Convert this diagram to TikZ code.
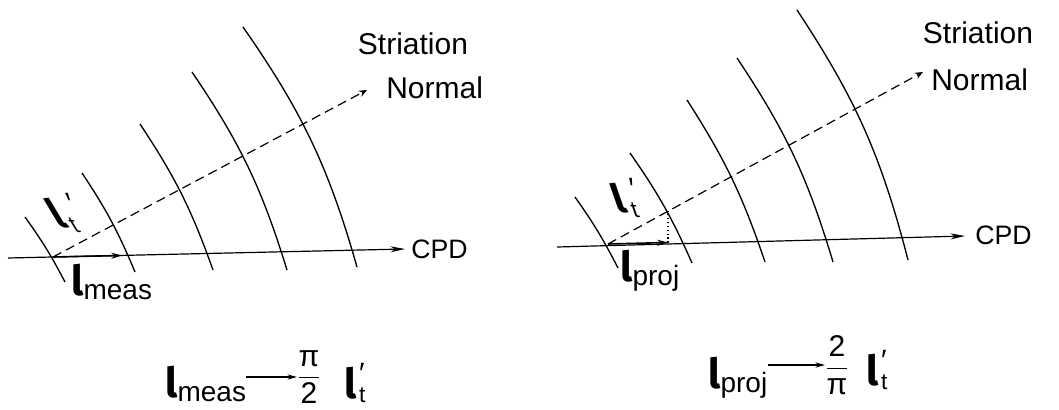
\documentclass[tikz,border=0pt]{standalone}
\usepackage{amsmath}
\usepackage{fontspec}
\setmainfont{Liberation Sans}
\newfontfamily\ellfont{Fira Sans}
\usepackage{tikz}
\usetikzlibrary{arrows.meta}
\usetikzlibrary{positioning}

\newcommand{\ellsym}{{\ellfont\bfseries\fontsize{31}{31}\selectfont l}}
\newcommand{\ellsub}[1]{\ellsym\raisebox{-3pt}{\fontsize{21}{21}\selectfont #1}}
\newcommand{\primet}{\shortstack[l]{{\fontsize{22}{22}\selectfont ′}\\{\fontsize{17}{17}\selectfont t}}}
\newcommand{\ellt}{\ellsym\kern2pt\raisebox{-3pt}{\primet}}
\newcommand{\ellts}[1]{{\addfontfeature{FakeSlant=#1}{\ellfont\bfseries\addfontfeature{FakeSlant=#1}\fontsize{29}{29}\selectfont l}\kern4pt\raisebox{-4pt}{\primet}}}

\begin{document}
\begin{tikzpicture}[
  x=0.75pt, y=-0.75pt,
  every node/.style={inner sep=0pt, font=\fontsize{22.5}{24}\selectfont},
  cpdtext/.style={font=\fontsize{20}{22}\selectfont},
  striation/.style={line width=1pt},
  cpd/.style={line width=0.9pt, -{Stealth[length=11pt,width=4.5pt]}},
  normal/.style={line width=0.9pt, dash pattern=on 7pt off 4pt, -{Stealth[length=6pt,width=5pt]}},
  vec/.style={line width=1.2pt, -{Stealth[length=8pt,width=4.5pt]}},
  limit/.style={line width=0.8pt, -{Stealth[length=7pt,width=4pt]}}
]
\useasboundingbox (0,0) rectangle (1059,410);

% left panel
\foreach \xa/\ya/\xb/\yb/\bend in {25/217/65/282/4, 82/173/135/272/5.5,
  140/124/213/270/7, 192/72/287/270/8.5, 243/27/357/267/9.5}
  \draw[striation] (\xa,\ya) to[bend left=\bend] (\xb,\yb);
\coordinate (oL) at (53,257);
\coordinate (cpdL0) at (8,258);
\coordinate (cpdL1) at (405,249);
\coordinate (measL) at (122,255.5);
\coordinate (normL1) at (367,90);
\node[cpdtext, anchor=west] (cpdLlab) at (411,249) {CPD};
\node[anchor=west] (normLlab) at (386,88) {Normal};
\node (striLlab) at (413,44) {Striation};
\node[anchor=base west] (ltL) at (58,227) {\ellts{-0.6}};
\node[anchor=base west] (lmeasL) at (71,295) {\ellsub{meas}};
\draw[cpd] (cpdL0) -- (cpdL1);
\draw[normal] (oL) -- (normL1);
\draw[vec] (oL) -- (measL);

% right panel
\foreach \xa/\ya/\xb/\yb/\bend in {575/197/618/268/4, 630/153/692/263/5.5,
  687/100/765/262/7, 737/58/833/262/8.5, 797/10/908/260/9.5}
  \draw[striation] (\xa,\ya) to[bend left=\bend] (\xb,\yb);
\coordinate (oR) at (608,244);
\coordinate (cpdR0) at (557,247);
\coordinate (cpdR1) at (965,236);
\coordinate (projR) at (668,242.5);
\coordinate (footR) at (668,211);
\coordinate (normR1) at (923,72);
\node[cpdtext, anchor=west] (cpdRlab) at (975,235) {CPD};
\node[anchor=west] (normRlab) at (931,80) {Normal};
\node (striRlab) at (978,33) {Striation};
\node[anchor=base west] (ltR) at (617,212) {\ellts{-0.35}};
\node[anchor=base west] (lprojR) at (620,281) {\ellsub{proj}};
\draw[cpd] (cpdR0) -- (cpdR1);
\draw[normal] (oR) -- (normR1);
\draw[vec] (oR) -- (projR);
\draw[dotted, line width=0.9pt] (projR) -- (footR);

% limits
\node[anchor=base west] (eqL) at (165,397) {\ellsub{meas}};
\node (fracL) at (309,377) {$\dfrac{\mbox{π}}{\mbox{2}}$};
\node[anchor=base west] (eqLt) at (344,398) {\ellt};
\draw[limit] (eqL.east |- fracL) -- (fracL.west);

\node[anchor=base west] (eqR) at (708,388) {\ellsub{proj}};
\node (fracR) at (837,365) {$\dfrac{\mbox{2}}{\mbox{π}}$};
\node[anchor=base west] (eqRt) at (866,385) {\ellt};
\draw[limit] (eqR.east |- fracR) -- (fracR.west);
\end{tikzpicture}
\end{document}
